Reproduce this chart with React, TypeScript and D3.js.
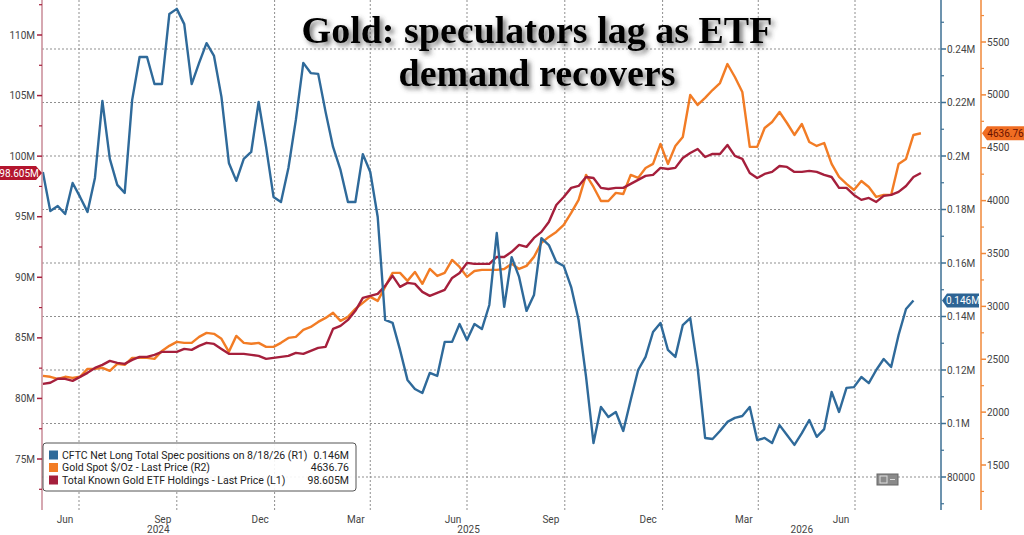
import * as d3 from 'd3';

// weekly observations, first one on 28 May 2024
const startDate = new Date(2024, 4, 28);

// CFTC net long total spec positions, thousands of contracts (R1)
const cftc = [
  194.0, 179.4, 181.3, 178.3, 189.9, 184.7, 179.1, 191.8, 220.6, 198.9,
  189.2, 186.2, 220.9, 237.0, 237.0, 226.9, 226.9, 253.1, 255.0, 249.3,
  226.9, 234.8, 242.2, 237.4, 222.1, 197.4, 190.7, 198.9, 201.5, 220.2,
  203.4, 184.7, 182.8, 195.5, 213.5, 234.8, 231.0, 230.7, 216.4, 203.4,
  194.8, 182.8, 182.8, 200.7, 194.0, 177.2, 138.7, 137.6, 127.5, 116.3,
  112.9, 111.4, 118.9, 117.8, 130.5, 130.5, 137.2, 131.2, 137.2, 135.3,
  144.3, 171.2, 143.6, 162.2, 154.8, 142.1, 148.0, 169.3, 166.7, 160.4,
  158.9, 151.0, 138.7, 117.4, 92.7, 106.2, 102.4, 104.3, 97.2, 108.8,
  120.0, 124.9, 134.2, 137.6, 127.5, 124.9, 136.8, 139.4, 120.7, 94.6,
  94.2, 97.2, 100.6, 102.1, 102.8, 106.2, 93.8, 94.6, 92.7, 99.4,
  95.7, 92.0, 96.4, 101.3, 95.0, 97.9, 111.8, 104.3, 113.3, 113.6,
  117.4, 115.1, 120.0, 124.1, 121.1, 133.1, 142.8, 146.0,
];

// Gold spot $/oz (R2)
const goldSpot = [
  2343, 2334, 2315, 2334, 2324, 2334, 2409, 2409, 2419, 2390,
  2456, 2447, 2513, 2513, 2513, 2504, 2579, 2627, 2664, 2655,
  2655, 2712, 2749, 2740, 2693, 2570, 2721, 2655, 2646, 2655,
  2617, 2617, 2655, 2702, 2712, 2778, 2806, 2853, 2891, 2939,
  2863, 2901, 2976, 3033, 3090, 3052, 3184, 3317, 3317, 3241,
  3326, 3213, 3354, 3288, 3317, 3439, 3373, 3279, 3335, 3345,
  3345, 3345, 3354, 3402, 3354, 3383, 3468, 3600, 3657, 3704,
  3770, 3884, 4007, 4243, 4129, 3997, 3997, 4073, 4063, 4243,
  4215, 4309, 4347, 4536, 4347, 4517, 4602, 4999, 4905, 4971,
  5046, 5112, 5292, 5169, 5027, 4508, 4508, 4687, 4744, 4838,
  4734, 4621, 4725, 4555, 4517, 4545, 4347, 4224, 4158, 4101,
  4186, 4129, 4035, 4054, 4054, 4347, 4394, 4621, 4636.76,
];

// Total known gold ETF holdings, millions oz (L1)
const etfHoldings = [
  81.2, 81.29, 81.62, 81.62, 81.45, 81.78, 82.11, 82.52, 82.77, 83.1,
  82.94, 82.85, 83.18, 83.43, 83.43, 83.6, 83.84, 83.84, 83.84, 84.09,
  84.01, 84.34, 84.59, 84.5, 84.09, 83.68, 83.68, 83.68, 83.6, 83.51,
  83.27, 83.35, 83.43, 83.51, 83.76, 83.68, 83.93, 84.17, 84.26, 85.74,
  85.99, 86.48, 87.23, 88.3, 88.47, 88.63, 89.29, 90.12, 89.21, 89.54,
  89.46, 88.8, 88.47, 88.71, 88.96, 89.95, 90.36, 91.19, 91.11, 91.11,
  91.11, 91.68, 91.68, 92.1, 92.67, 92.51, 93.25, 93.75, 94.57, 95.97,
  96.63, 97.38, 97.54, 98.28, 98.2, 97.38, 97.29, 97.38, 97.38, 97.71,
  98.04, 98.37, 98.45, 99.03, 98.94, 99.03, 99.85, 100.26, 100.59, 99.93,
  100.18, 100.18, 100.92, 100.02, 99.77, 98.61, 98.2, 98.53, 98.7, 99.19,
  99.11, 98.7, 98.7, 98.78, 98.7, 98.45, 98.28, 97.38, 97.38, 96.8,
  96.39, 96.55, 96.22, 96.72, 96.8, 97.05, 97.54, 98.28, 98.605,
];

const dates = etfHoldings.map((_, i) => d3.timeDay.offset(startDate, i * 7));

const leftTicks = [75, 80, 85, 90, 95, 100, 105, 110];
const r1Ticks = [80, 100, 120, 140, 160, 180, 200, 220, 240];
const r2Ticks = [1500, 2000, 2500, 3000, 3500, 4000, 4500, 5000, 5500];

const legendRows = [
  { label: 'CFTC Net Long Total Spec positions on 8/18/26 (R1)', value: '0.146M', color: '#2f6a9a' },
  { label: 'Gold Spot $/Oz - Last Price (R2)', value: '4636.76', color: '#f27c25' },
  { label: 'Total Known Gold ETF Holdings - Last Price (L1)', value: '98.605M', color: '#a51f3c' },
];

const BLUE = '#2f6a9a';
const ORANGE = '#f27c25';
const RED = '#a51f3c';
const FONT = 'Roboto, "DejaVu Sans", sans-serif';

export default function App() {
  const left = 42, right = 941, top = 0, bottom = 510;
  const r2Axis = 981;

  const x = d3.scaleTime().domain([new Date(2024, 6, 1), new Date(2026, 6, 1)]).range([79, 855]);
  const yL = d3.scaleLinear().domain([75, 110]).range([459, 35]);
  const yR1 = d3.scaleLinear().domain([80, 240]).range([477, 49]);
  const yR2 = d3.scaleLinear().domain([1500, 5500]).range([465, 42]);

  const lineFor = (scale: d3.ScaleLinear<number, number>) =>
    d3.line<number>().x((_, i) => x(dates[i])).y(d => scale(d));

  const quarterLines = d3.timeMonth.range(new Date(2024, 6, 1), new Date(2026, 7, 1), 3);
  const monthLabels = d3.timeMonth.range(new Date(2024, 5, 1), new Date(2026, 6, 1), 3);
  const years = [2024, 2025, 2026];

  const leftMinor = d3.range(72.5, 112.6, 5);
  const r1Minor = d3.range(70, 251, 20);
  const r2Minor = d3.range(1250, 5751, 500);

  const fmtR1 = (v: number) => (v >= 100 ? `${+(v / 1000).toFixed(2)}M` : `${v * 1000}`);

  const lastR1 = yR1(cftc[cftc.length - 1]);
  const lastR2 = yR2(goldSpot[goldSpot.length - 1]);
  const lastL = yL(etfHoldings[etfHoldings.length - 1]);

  return (
    <svg width={1024} height={535} style={{ position: 'absolute', left: 0, top: 0, background: '#fff' }}
      fontFamily={FONT}>
      <defs>
        <clipPath id="plot">
          <rect x={left} y={top} width={right - left} height={bottom - top} />
        </clipPath>
        <filter id="shadow" x="-10%" y="-30%" width="120%" height="170%">
          <feDropShadow dx={3} dy={3} stdDeviation={2.5} floodColor="#444" floodOpacity={0.75} />
        </filter>
      </defs>

      {/* grid */}
      {r1Ticks.map(t => (
        <line key={'h' + t} x1={left} x2={right} y1={yR1(t)} y2={yR1(t)}
          stroke="#8f8f8f" strokeWidth={1} strokeDasharray="2,2" />
      ))}
      {quarterLines.map(d => (
        <line key={'v' + +d} x1={x(d)} x2={x(d)} y1={top} y2={bottom}
          stroke="#8f8f8f" strokeWidth={1} strokeDasharray="2,2" />
      ))}

      {/* series */}
      <g clipPath="url(#plot)" fill="none" strokeWidth={2.4} strokeLinejoin="round">
        <path d={lineFor(yR2)(goldSpot) ?? ''} stroke={ORANGE} />
        <path d={lineFor(yL)(etfHoldings) ?? ''} stroke={RED} />
        <path d={lineFor(yR1)(cftc) ?? ''} stroke={BLUE} />
      </g>

      {/* left axis */}
      <line x1={left} x2={left} y1={top} y2={bottom} stroke="#c98b97" strokeWidth={1.5} />
      {leftMinor.map(t => (
        <line key={'lm' + t} x1={left - 3} x2={left} y1={yL(t)} y2={yL(t)} stroke={RED} strokeWidth={1.2} />
      ))}
      {leftTicks.map(t => (
        <g key={'l' + t}>
          <line x1={left - 5} x2={left} y1={yL(t)} y2={yL(t)} stroke={RED} strokeWidth={1.5} />
          <text x={left - 7} y={yL(t)} dy="0.35em" textAnchor="end" fontSize={10} fill="#444">{t}M</text>
        </g>
      ))}

      {/* right axis R1 */}
      <line x1={right} x2={right} y1={top} y2={bottom} stroke="#3d6f93" strokeWidth={1.5} />
      {r1Minor.map(t => (
        <line key={'r1m' + t} x1={right} x2={right + 3} y1={yR1(t)} y2={yR1(t)} stroke="#3d6f93" strokeWidth={1.2} />
      ))}
      {r1Ticks.map(t => (
        <g key={'r1' + t}>
          <line x1={right} x2={right + 5} y1={yR1(t)} y2={yR1(t)} stroke="#3d6f93" strokeWidth={1.5} />
          <text x={right + 6} y={yR1(t)} dy="0.35em" fontSize={10} fill="#444">{fmtR1(t)}</text>
        </g>
      ))}

      {/* right axis R2 */}
      <line x1={r2Axis} x2={r2Axis} y1={top} y2={bottom} stroke="#f0883a" strokeWidth={1.5} />
      {r2Minor.map(t => (
        <line key={'r2m' + t} x1={r2Axis} x2={r2Axis + 3} y1={yR2(t)} y2={yR2(t)} stroke="#f0883a" strokeWidth={1.2} />
      ))}
      {r2Ticks.map(t => (
        <g key={'r2' + t}>
          <line x1={r2Axis} x2={r2Axis + 5} y1={yR2(t)} y2={yR2(t)} stroke="#f0883a" strokeWidth={1.5} />
          <text x={r2Axis + 6} y={yR2(t)} dy="0.35em" fontSize={10} fill="#444">{t}</text>
        </g>
      ))}

      {/* last value tags */}
      <path d={`M0,${lastL - 7}H36L42,${lastL}L36,${lastL + 7}H0Z`} fill="#b4152e" />
      <text x={19} y={lastL} dy="0.35em" textAnchor="middle" fontSize={10} fill="#fff">98.605M</text>
      <path d={`M${right + 1},${lastR1}L${right + 6},${lastR1 - 7}H${r2Axis - 2}V${lastR1 + 7}H${right + 6}Z`} fill="#2d6494" />
      <text x={(right + 6 + r2Axis - 2) / 2} y={lastR1} dy="0.35em" textAnchor="middle" fontSize={10} fill="#fff">0.146M</text>
      <path d={`M${r2Axis + 1},${lastR2}L${r2Axis + 6},${lastR2 - 7}H1024V${lastR2 + 7}H${r2Axis + 6}Z`} fill="#f06d22" />
      <text x={(r2Axis + 6 + 1024) / 2} y={lastR2} dy="0.35em" textAnchor="middle" fontSize={10} fill="#6a1200">4636.76</text>

      {/* x axis labels */}
      {monthLabels.map(d => (
        <text key={'m' + +d} x={(x(d) + x(d3.timeMonth.offset(d, 1))) / 2 + 2} y={523}
          textAnchor="middle" fontSize={10} fill="#444">{d3.timeFormat('%b')(d)}</text>
      ))}
      {years.map(yr => {
        const a = Math.max(x(new Date(yr, 0, 1)), left);
        const b = Math.min(x(new Date(yr + 1, 0, 1)), right);
        return (
          <text key={'y' + yr} x={(a + b) / 2} y={533} textAnchor="middle" fontSize={10} fill="#444">{yr}</text>
        );
      })}

      {/* legend */}
      <rect x={43} y={443} width={313} height={48} rx={3} fill="#fff" fillOpacity={0.9} stroke="#555" strokeWidth={1} />
      {legendRows.map((r, i) => (
        <g key={r.label} transform={`translate(0,${455 + i * 12.5})`}>
          <rect x={49} y={-4.5} width={9} height={9} fill={r.color} />
          <text x={62} y={0} dy="0.35em" fontSize={10.5} fill="#222">{r.label}</text>
          <text x={349} y={0} dy="0.35em" textAnchor="end" fontSize={10.5} fill="#222">{r.value}</text>
        </g>
      ))}

      {/* small chart control */}
      <rect x={877} y={474} width={21} height={11} fill="#8a8a8a" stroke="#666" />
      <rect x={880} y={476} width={7} height={7} fill="none" stroke="#ddd" />
      <line x1={890} x2={895} y1={479.5} y2={479.5} stroke="#ddd" />

      {/* title */}
      <g filter="url(#shadow)" fontFamily='"Liberation Serif", "Times New Roman", serif' fontWeight="bold"
        fontSize={38} textAnchor="middle" fill="#000">
        <text x={537} y={43}>Gold: speculators lag as ETF</text>
        <text x={537} y={86}>demand recovers</text>
      </g>
    </svg>
  );
}
